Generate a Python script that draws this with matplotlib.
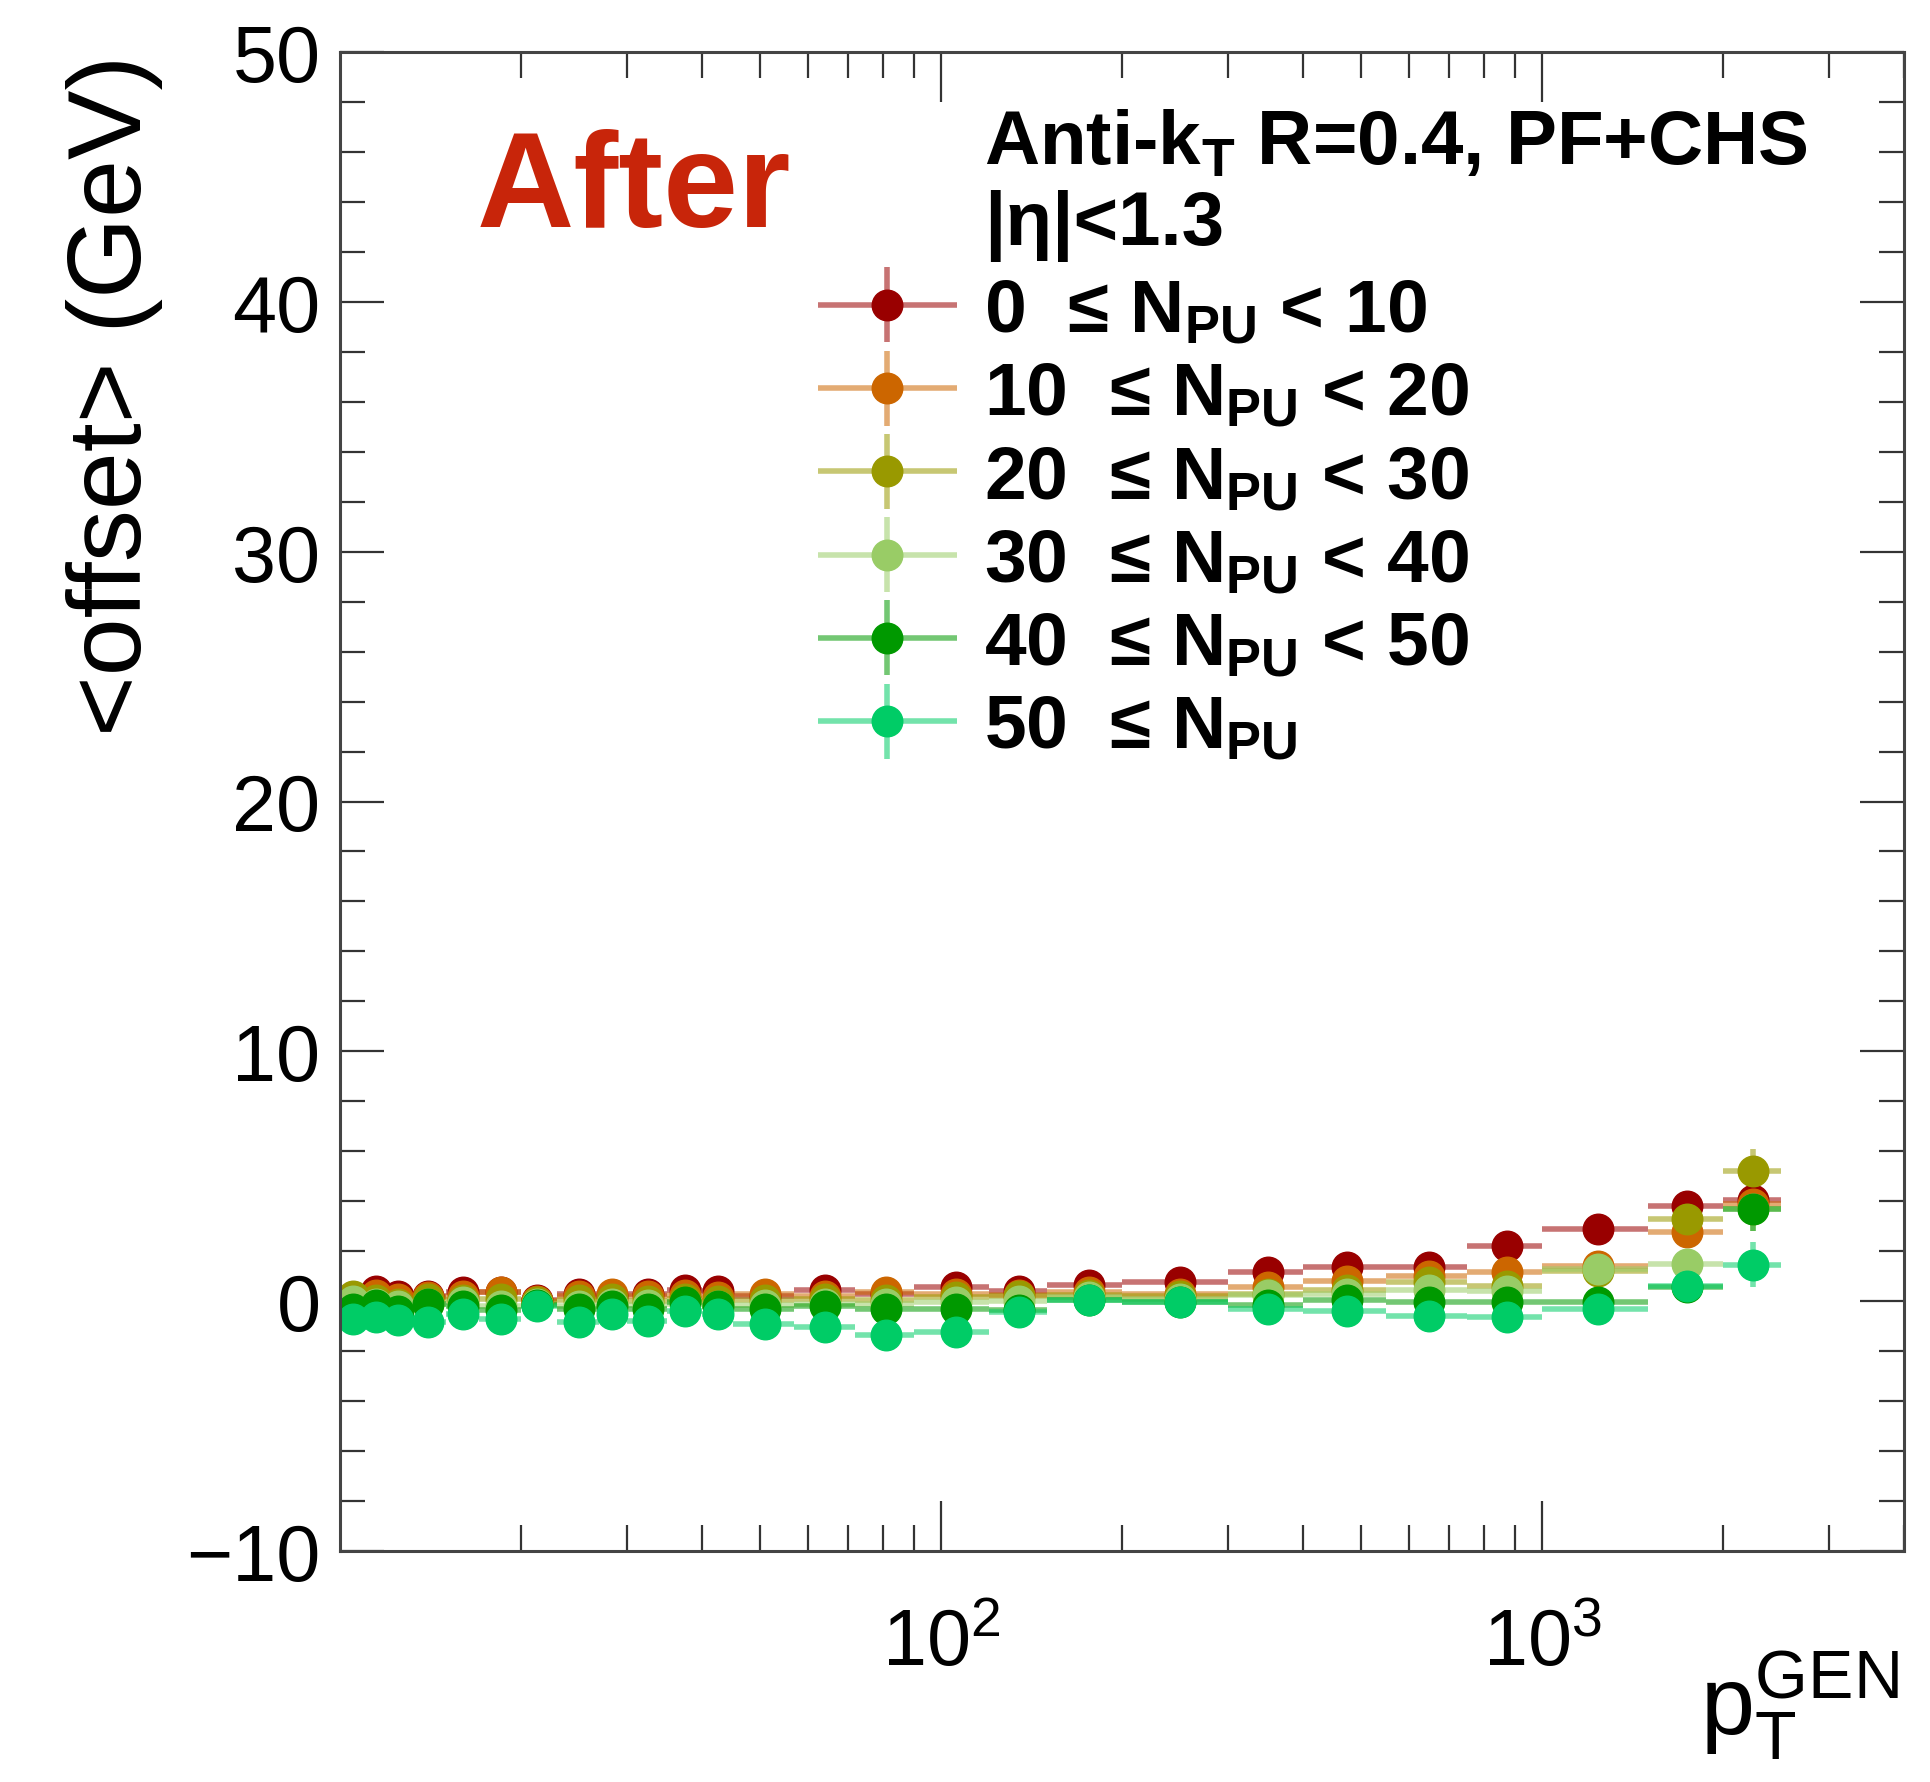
import numpy as np
import matplotlib

matplotlib.use("Agg")
import matplotlib.pyplot as plt
import matplotlib.ticker as mticker
from matplotlib.container import ErrorbarContainer
from matplotlib.legend_handler import HandlerErrorbar

plt.rcParams["font.family"] = ["Liberation Sans", "DejaVu Sans"]
plt.rcParams["mathtext.fontset"] = "custom"
plt.rcParams["mathtext.rm"] = "Liberation Sans"
plt.rcParams["mathtext.bf"] = "Liberation Sans:bold"
plt.rcParams["mathtext.default"] = "regular"

# pT bins (GeV) and the mean pT in each bin
bin_edges = [10, 11, 12, 13, 15, 17, 20, 23, 27, 30, 35, 40, 45, 57, 72, 90,
             120, 150, 200, 300, 400, 550, 750, 1000, 1500, 2000, 2500]
pt_mean = [10.5, 11.5, 12.5, 14, 16, 18.5, 21.3, 25, 28.4, 32.5, 37.5, 42.5,
           51, 64, 81, 106, 135, 176, 250, 350, 474, 649, 875, 1240, 1742, 2244]

# <offset> after correction, one list per pile-up bin
offset_npu_0_10 = [0.1, 0.4, 0.2, 0.2, 0.35, 0.35, 0.05, 0.3, 0.2, 0.3, 0.45, 0.4,
                   0.2, 0.45, 0.3, 0.55, 0.4, 0.65, 0.75, 1.15, 1.35, 1.35, 2.2, 2.9, 3.8, 4.05]
offset_npu_10_20 = [0.1, 0.25, 0.1, 0.15, 0.2, 0.35, 0.0, 0.2, 0.3, 0.2, 0.25, 0.15,
                    0.3, 0.2, 0.35, 0.3, 0.25, 0.35, 0.3, 0.55, 0.8, 1.0, 1.15, 1.4, 2.75, 3.9]
offset_npu_20_30 = [0.2, 0.05, -0.1, 0.1, 0.05, 0.1, -0.05, 0.05, 0.1, 0.0, 0.1, 0.0,
                    0.05, 0.1, 0.05, 0.15, 0.2, 0.25, 0.2, 0.3, 0.45, 0.75, 0.6, 1.2, 3.3, 5.2]
offset_npu_30_40 = [0.0, -0.1, -0.2, -0.1, -0.05, -0.2, -0.1, -0.2, -0.1, -0.15, -0.1, -0.2,
                    -0.15, -0.1, -0.1, -0.05, 0.0, 0.15, 0.1, 0.25, 0.3, 0.45, 0.4, 1.3, 1.5, 3.7]
offset_npu_40_50 = [-0.3, -0.15, -0.4, -0.1, -0.2, -0.35, -0.15, -0.3, -0.2, -0.3, -0.05, -0.2,
                    -0.3, -0.2, -0.3, -0.3, -0.35, 0.05, -0.05, -0.15, 0.05, -0.05, -0.05, -0.05, 0.55, 3.7]
offset_npu_50 = [-0.7, -0.65, -0.75, -0.85, -0.5, -0.7, -0.2, -0.85, -0.5, -0.8, -0.4, -0.5,
                 -0.9, -1.05, -1.35, -1.25, -0.45, 0.05, -0.05, -0.3, -0.4, -0.6, -0.65, -0.3, 0.6, 1.45]

offset_err = [0.15, 0.15, 0.15, 0.15, 0.15, 0.15, 0.15, 0.15, 0.15, 0.15, 0.15, 0.15,
              0.15, 0.15, 0.15, 0.15, 0.15, 0.15, 0.15, 0.2, 0.2, 0.25, 0.3, 0.35, 0.45, 0.9]

series_labels = [
    r"0  ≤ N$_\mathregular{PU}$ < 10",
    r"10  ≤ N$_\mathregular{PU}$ < 20",
    r"20  ≤ N$_\mathregular{PU}$ < 30",
    r"30  ≤ N$_\mathregular{PU}$ < 40",
    r"40  ≤ N$_\mathregular{PU}$ < 50",
    r"50  ≤ N$_\mathregular{PU}$",
]
series_values = [offset_npu_0_10, offset_npu_10_20, offset_npu_20_30,
                 offset_npu_30_40, offset_npu_40_50, offset_npu_50]
COLORS = ["#990000", "#cc6600", "#999900", "#99cc66", "#009900", "#00cc66"]

fig = plt.figure(figsize=(19.31, 17.83), dpi=100)
ax = fig.add_axes([340 / 1931, 231 / 1783, 1564 / 1931, 1499 / 1783])

pt = np.array(pt_mean)
edges = np.array(bin_edges)
xerr = [pt - edges[:-1], edges[1:] - pt]

handles = []
for values, color, label in zip(series_values, COLORS, series_labels):
    h = ax.errorbar(
        pt, values, xerr=xerr, yerr=offset_err,
        fmt="o", color=color, ecolor=(color, 0.55), elinewidth=4,
        markersize=22, capsize=0, label=label,
    )
    handles.append(h)

ax.set_xscale("log")
ax.set_xlim(10, 4000)
ax.set_ylim(-10, 50)
ax.yaxis.set_major_locator(mticker.MultipleLocator(10))
ax.yaxis.set_minor_locator(mticker.MultipleLocator(2))
ax.xaxis.set_major_locator(mticker.FixedLocator([100, 1000]))
ax.xaxis.set_major_formatter(mticker.LogFormatterSciNotation())
ax.xaxis.set_minor_locator(mticker.LogLocator(base=10, subs=np.arange(2, 10), numticks=20))
ax.xaxis.set_minor_formatter(mticker.NullFormatter())

ax.tick_params(which="both", direction="in", top=True, right=True,
               width=1.6, color="#333333", labelsize=57)
ax.tick_params(axis="y", which="major", length=32, pad=14)
ax.tick_params(axis="y", which="minor", length=18)
ax.tick_params(axis="x", which="major", length=36, pad=40)
ax.tick_params(axis="x", which="minor", length=19)
for spine in ax.spines.values():
    spine.set_linewidth(2.2)
    spine.set_color("#444444")

fig.text(115 / 1931, 1 - 55 / 1783, "<offset> (GeV)", rotation=90,
         ha="center", va="top", fontsize=75)
fig.text(1700 / 1931, 1 - 1735 / 1783, r"$p_{T}^{GEN}$", ha="left",
         va="baseline", fontsize=70)

fig.text(477 / 1931, 1 - 227 / 1783, "After", ha="left", va="baseline",
         fontsize=97, fontweight="bold", color="#c8250a")

ax.text(0.412, 0.926, r"Anti-k$_\mathregular{T}$ R=0.4, PF+CHS",
        transform=ax.transAxes, fontsize=55, fontweight="bold", va="baseline")
ax.text(0.412, 0.872, "|η|<1.3", transform=ax.transAxes, fontsize=55,
        fontweight="bold", va="baseline")

ax.legend(
    handles=handles, loc="upper left",
    bbox_to_anchor=(818 / 1931, 1 - 278 / 1783), bbox_transform=fig.transFigure,
    frameon=False, prop={"weight": "bold", "size": 54},
    handlelength=1.85, handletextpad=0.36, labelspacing=0.19,
    borderpad=0, borderaxespad=0,
    handler_map={ErrorbarContainer: HandlerErrorbar(xerr_size=0.93, yerr_size=0.5)},
)

fig.savefig("out.png", dpi=100)
